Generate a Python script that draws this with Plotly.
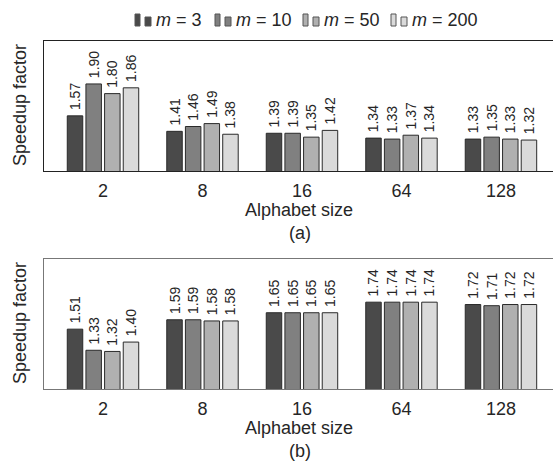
import plotly.graph_objects as go

W, H = 553, 463
L = 44  # left margin (px)

categories = ["2", "8", "16", "64", "128"]
series_names = ["<i>m</i> = 3", "<i>m</i> = 10", "<i>m</i> = 50", "<i>m</i> = 200"]

a_m3 = [1.57, 1.41, 1.39, 1.34, 1.33]
a_m10 = [1.90, 1.46, 1.39, 1.33, 1.35]
a_m50 = [1.80, 1.49, 1.35, 1.37, 1.33]
a_m200 = [1.86, 1.38, 1.42, 1.34, 1.32]

b_m3 = [1.51, 1.59, 1.65, 1.74, 1.72]
b_m10 = [1.33, 1.59, 1.65, 1.74, 1.71]
b_m50 = [1.32, 1.58, 1.65, 1.74, 1.72]
b_m200 = [1.40, 1.58, 1.65, 1.74, 1.72]

colors = ["#4a4a4a", "#808080", "#b0b0b0", "#dadada"]
FONT = "Liberation Sans, Arial, sans-serif"
TXT = "#262626"


def px_x(x):
    return (x - L) / (W - L)


def px_y(y):
    return 1 - y / H


fig = go.Figure()

panels = [
    ([a_m3, a_m10, a_m50, a_m200], "x", "y"),
    ([b_m3, b_m10, b_m50, b_m200], "x2", "y2"),
]
for data, xa, ya in panels:
    for name, vals, col in zip(series_names, data, colors):
        fig.add_trace(go.Bar(
            x=categories, y=vals, name=name, xaxis=xa, yaxis=ya,
            marker=dict(color=col, line=dict(color="#2a2a2a", width=1)),
            text=["\u2009" + f"{v:.2f}" for v in vals], textposition="outside",
            textangle=-90, constraintext="none", cliponaxis=False,
            textfont=dict(family=FONT, size=14, color=TXT),
            showlegend=False,
        ))

# panel geometry (px)
top_a, bot_a = 41, 171
top_b, bot_b = 259, 389

xcommon = dict(type="category", range=[-0.593, 4.523], showline=True, mirror=True,
               ticks="", showgrid=False, zeroline=False, ticklabelstandoff=3,
               tickfont=dict(family=FONT, size=18, color=TXT))
ycommon = dict(showline=True, mirror=False, ticks="", showticklabels=False,
               showgrid=False, zeroline=False)

fig.update_layout(
    width=W, height=H,
    margin=dict(l=L, r=0, t=0, b=0),
    paper_bgcolor="white", plot_bgcolor="white",
    barmode="group", bargap=0.25, bargroupgap=0.17,
    font=dict(family=FONT, size=18, color=TXT),
    xaxis=dict(domain=[0, 1], anchor="y", linecolor="#222222", linewidth=1.2, **xcommon),
    yaxis=dict(domain=[px_y(bot_a), px_y(top_a)], anchor="x", range=[1, 2.344],
               linecolor="#222222", linewidth=1.2, **ycommon),
    xaxis2=dict(domain=[0, 1], anchor="y2", linecolor="#777777", linewidth=1.2, **xcommon),
    yaxis2=dict(domain=[px_y(bot_b), px_y(top_b)], anchor="x2", range=[1, 2.108],
                linecolor="#777777", linewidth=1.2, **ycommon),
    showlegend=False,
)

annotations = []
for top, bot, tag in [(top_a, bot_a, "(a)"), (top_b, bot_b, "(b)")]:
    annotations.append(dict(text="Alphabet size", xref="paper", yref="paper",
                            x=px_x(298.5), y=px_y(bot + 39), xanchor="center", yanchor="middle",
                            showarrow=False, font=dict(family=FONT, size=18, color=TXT)))
    annotations.append(dict(text=tag, xref="paper", yref="paper",
                            x=px_x(300), y=px_y(bot + 62), xanchor="center", yanchor="middle",
                            showarrow=False, font=dict(family=FONT, size=18, color=TXT)))
    annotations.append(dict(text="Speedup factor", xref="paper", yref="paper",
                            x=px_x(20), y=px_y((top + bot) / 2 - 1), xanchor="center",
                            yanchor="middle", textangle=-90,
                            showarrow=False, font=dict(family=FONT, size=18, color=TXT)))

# custom legend: icon (two small rects) + label
legend_x = [135, 215, 303, 391]
shapes = []
for lx, name, col in zip(legend_x, series_names, colors):
    shapes.append(dict(type="rect", xref="paper", yref="paper",
                       x0=px_x(lx), x1=px_x(lx + 5), y0=px_y(26), y1=px_y(14),
                       fillcolor=col, line=dict(color="#555555", width=1)))
    shapes.append(dict(type="rect", xref="paper", yref="paper",
                       x0=px_x(lx + 10), x1=px_x(lx + 16), y0=px_y(26), y1=px_y(17),
                       fillcolor=col, line=dict(color="#555555", width=1)))
    annotations.append(dict(text=name, xref="paper", yref="paper",
                            x=px_x(lx + 19), y=px_y(20), xanchor="left", yanchor="middle",
                            showarrow=False, font=dict(family=FONT, size=18, color=TXT)))

fig.update_layout(annotations=annotations, shapes=shapes)

fig.write_html("out.html")
